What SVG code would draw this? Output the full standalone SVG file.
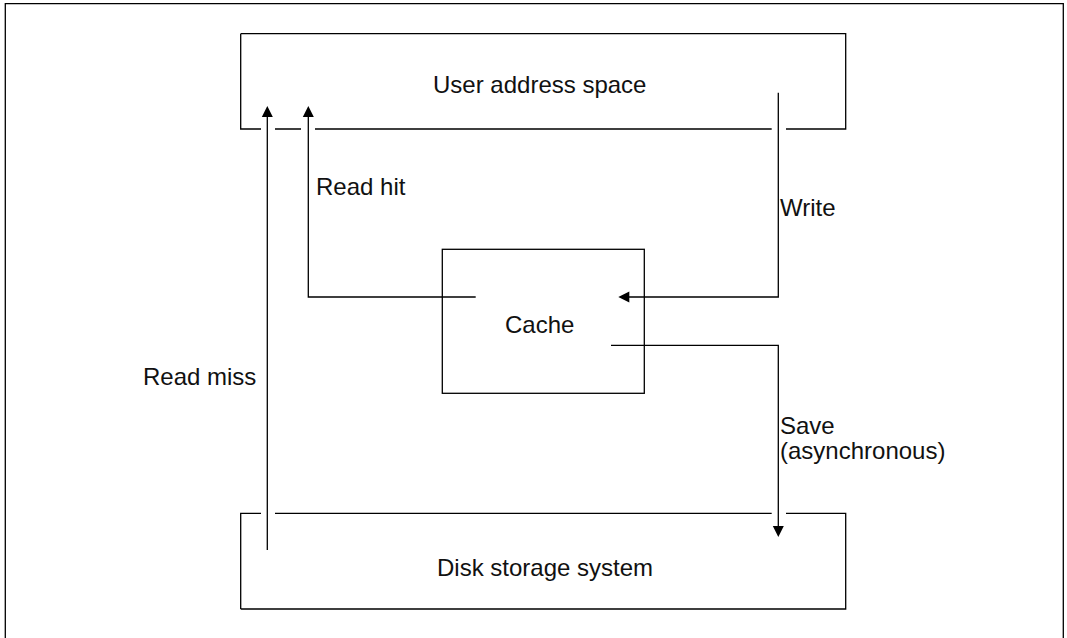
<svg xmlns="http://www.w3.org/2000/svg" width="1067" height="638" viewBox="0 0 1067 638">
<style>
.ln{fill:none;stroke:#000;stroke-width:1.3}
.tx{font-family:"Liberation Sans",Arial,sans-serif;font-size:24px;fill:#111}
.ah{fill:#000}
</style>
<rect width="1067" height="638" fill="#fff"/>
<path class="ln" d="M5.3,638 V3.7 H1063.3 V638"/>
<g id="user-address-space">
<path class="ln" d="M240.7,33.7 H845.7 V129 H786 M771.7,129 H315 M301,129 H275 M261,129 H240.7 V33.7"/>
<text class="tx" x="433" y="93">User address space</text>
</g>
<g id="cache">
<rect class="ln" x="442.3" y="249.3" width="202" height="144"/>
<text class="tx" x="505" y="333">Cache</text>
</g>
<g id="disk-storage-system">
<path class="ln" d="M240.7,609 V513.3 H261 M275,513.3 H771.7 M786,513.3 H845.7 V609 H240.7"/>
<text class="tx" x="437" y="576">Disk storage system</text>
</g>
<g id="connectors">
<path class="ln" d="M267.3,550 V112"/>
<polygon class="ah" points="267.3,106 261.8,117 272.8,117"/>
<path class="ln" d="M475.7,297 H308.3 V112"/>
<polygon class="ah" points="308.3,106 302.8,117 313.8,117"/>
<path class="ln" d="M778.3,92.7 V297 H624"/>
<polygon class="ah" points="618.3,297 629.3,291.5 629.3,302.5"/>
<path class="ln" d="M611,345.3 H778.3 V531"/>
<polygon class="ah" points="778.3,537 772.8,526 783.8,526"/>
<text class="tx" x="316" y="195">Read hit</text>
<text class="tx" x="780" y="216">Write</text>
<text class="tx" x="143" y="385">Read miss</text>
<text class="tx" x="780" y="434">Save</text>
<text class="tx" x="780" y="459">(asynchronous)</text>
</g>
</svg>
